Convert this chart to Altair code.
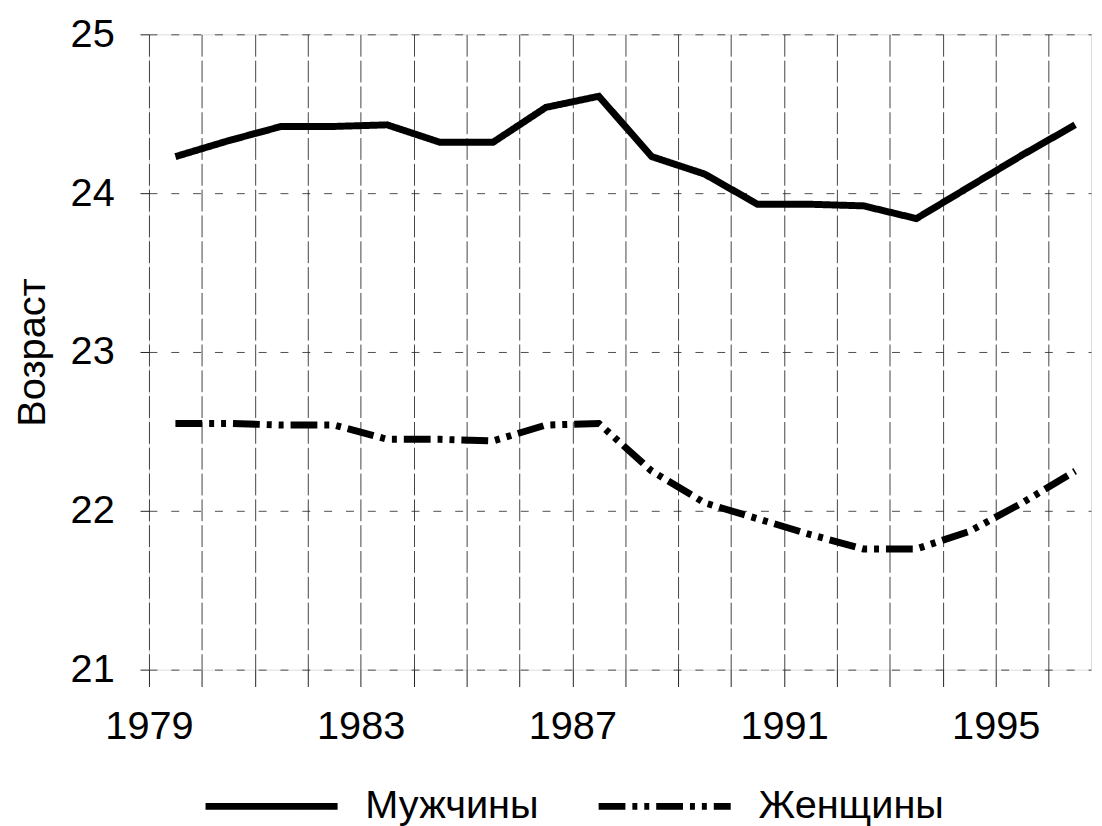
import altair as alt
import pandas as pd

years = list(range(1979, 1997))
men = [24.23, 24.33, 24.42, 24.42, 24.43, 24.32, 24.32, 24.54, 24.61,
       24.23, 24.12, 23.93, 23.93, 23.92, 23.84, 24.04, 24.24, 24.43]
women = [22.55, 22.55, 22.54, 22.54, 22.45, 22.45, 22.44, 22.54, 22.55,
         22.25, 22.05, 21.95, 21.85, 21.76, 21.76, 21.87, 22.05, 22.25]
series_names = ["Мужчины", "Женщины"]
y_ticks = [21, 22, 23, 24, 25]

rows = []
for y, m, w in zip(years, men, women):
    rows.append({"year": y, "series": series_names[0], "value": m})
    rows.append({"year": y, "series": series_names[1], "value": w})
df = pd.DataFrame(rows)

FONT = "Liberation Sans"

chart = alt.Chart(df).transform_calculate(
    xpos="datum.year + 0.5"
).mark_line(color="black", strokeWidth=7, strokeCap="butt", strokeJoin="miter").encode(
    x=alt.X("xpos:Q",
            scale=alt.Scale(domain=[1979, 1996.8], nice=False, zero=False),
            axis=alt.Axis(values=years, labelExpr="datum.value % 4 == 3 ? datum.value : ''",
                          title=None, grid=True, gridDash=[22, 4], gridColor="#222",
                          gridWidth=1, gridOpacity=0.85, domain=False,
                          ticks=True, tickSize=17, tickColor="#222", tickWidth=1,
                          labelFont=FONT, labelFontSize=40, labelColor="black",
                          labelPadding=20, labelFlush=False, labelOverlap=False)),
    y=alt.Y("value:Q",
            scale=alt.Scale(domain=[21, 25], nice=False, zero=False),
            axis=alt.Axis(values=y_ticks, format="d", title="Возраст",
                          grid=True, gridDash=[8, 14], gridColor="#222", gridWidth=1,
                          gridOpacity=0.8, domain=False, ticks=True, tickSize=9,
                          tickColor="#222", labelFont=FONT, labelFontSize=40,
                          labelColor="black", labelPadding=26,
                          titleFont=FONT, titleFontSize=40, titleFontWeight="normal",
                          titleColor="black", titlePadding=18)),
    strokeDash=alt.StrokeDash("series:N",
                              scale=alt.Scale(domain=series_names,
                                              range=[[1, 0], [27, 7, 5, 7, 5, 7]]),
                              legend=alt.Legend(title=None, orient="none",
                                                direction="horizontal",
                                                legendX=53, legendY=707,
                                                symbolType="stroke", symbolSize=17700,
                                                symbolStrokeWidth=7,
                                                symbolStrokeColor="black",
                                                labelFont=FONT, labelFontSize=40,
                                                labelColor="black", labelOffset=24,
                                                columnPadding=45, padding=0,
                                                labelLimit=400)),
    detail="series:N",
).properties(
    width=949, height=640,
    autosize=alt.AutoSizeParams(type="none"),
    padding={"left": 142, "top": 23.5, "right": 3, "bottom": 155},
).configure_view(stroke=None).configure(background="white")

chart.save("out.html", embed_options={"renderer": "svg", "actions": False})
